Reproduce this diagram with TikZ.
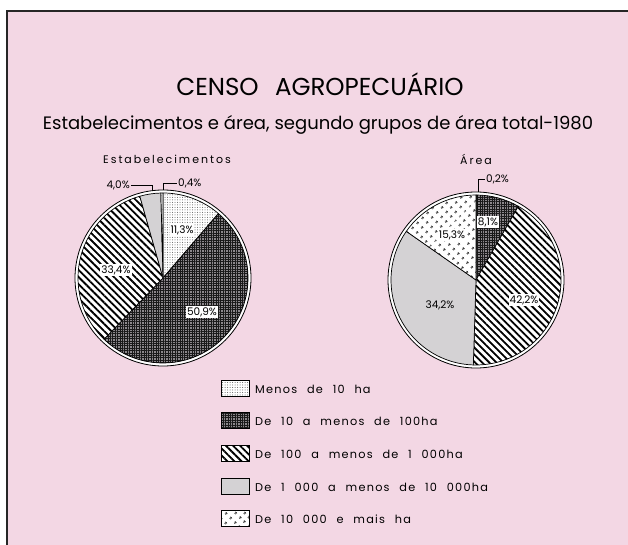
\documentclass[tikz,border=0pt]{standalone}
\usepackage{fontspec}
\setmainfont{Poppins}
\newfontfamily\legfont[LetterSpace=11,WordSpace=2.3]{Poppins}
\newfontfamily\spfont[LetterSpace=18]{Poppins}
\usetikzlibrary{patterns,patterns.meta}
\definecolor{bgpink}{RGB}{243,215,228}
\definecolor{lgray}{RGB}{212,210,212}
\definecolor{dkfill}{RGB}{140,136,140}
\tikzset{
  finedots/.style={preaction={fill=white},preaction={pattern={Dots[distance=2.5pt,radius=0.5pt]},pattern color=black!65}},
  darkhatch/.style={preaction={fill=dkfill},preaction={pattern={Hatch[angle=0,distance=2.4pt,line width=0.75pt]},pattern color=black!90}},
  stripes/.style={preaction={fill=white},preaction={pattern={Lines[angle=-45,distance=5pt,line width=1.8pt]},pattern color=black}},
  graysl/.style={preaction={fill=lgray}},
  bigdots/.style={preaction={fill=white},preaction={pattern={Dots[angle=45,distance=6.5pt,radius=1.4pt]},pattern color=black!80}},
  slicebd/.style={draw=black,line width=0.7pt,line join=round},
  ring/.style={draw=black,line width=0.8pt},
  inlab/.style={fill=white,inner sep=1pt,font=\fontsize{10.5}{12}\selectfont},
  outlab/.style={inner sep=1pt,font=\fontsize{10.5}{12}\selectfont},
  leader/.style={draw=black,line width=0.7pt},
  legbox/.style={draw=black,line width=0.8pt,minimum width=28pt,minimum height=16pt,inner sep=0pt},
  legtext/.style={anchor=west,inner sep=0pt,font=\legfont\fontsize{11.3}{13}\selectfont}
}
\newcommand\pslice[4]{\draw[slicebd,#4] (0,0) -- (#2:#1) arc[start angle=#2,end angle=#3,radius=#1] -- cycle;}
\begin{document}
\begin{tikzpicture}[x=1pt,y=-1pt]
\useasboundingbox (0,0) rectangle (628,545);
\fill[white] (0,0) rectangle (628,545);
\fill[bgpink] (7,11) rectangle (628,545);
\draw[line width=2.2pt,black!85] (7,545) -- (7,11) -- (628,11);

\node[font=\fontsize{24.5}{29}\selectfont] (title) at (320,84) {CENSO\hspace{0.4em} AGROPECUÁRIO};
\node[font=\fontsize{18}{22}\selectfont] (sub) at (318,125) {Estabelecimentos e área, segundo grupos de área total-1980};
\node[font=\spfont\fontsize{11}{13}\selectfont] (hl) at (167,159) {Estabelecimentos};
\node[font=\spfont\fontsize{11}{13}\selectfont] (hr) at (476,159) {Área};

% left pie
\begin{scope}[shift={(163,278)},y=1pt]
  \coordinate (L) at (0,0);
  \fill[white] (L) circle[radius=88];
  \draw[ring] (L) circle[radius=88];
  \pslice{85}{90}{49.32}{finedots}
  \pslice{85}{49.32}{-133.92}{darkhatch}
  \pslice{85}{-133.92}{-254.16}{stripes}
  \pslice{85}{-254.16}{-268.56}{graysl}
  \pslice{85}{-268.56}{-270}{bigdots}
  \coordinate (Ltop) at (90:88);
  \coordinate (L40) at (97.2:88);
\end{scope}
\node[inlab] (l113) at (182,230) {11,3\%};
\node[inlab] (l509) at (202,312) {50,9\%};
\node[inlab] (l334) at (116,270) {33,4\%};
\node[outlab,anchor=west] (l04) at (177,183) {0,4\%};
\node[outlab,anchor=east] (l40) at (131,185) {4,0\%};
\draw[leader] (Ltop) |- (l04.west);
\draw[leader] (L40) |- (l40.east);

% right pie
\begin{scope}[shift={(476,280)},y=1pt]
  \coordinate (R) at (0,0);
  \fill[white] (R) circle[radius=88];
  \draw[ring] (R) circle[radius=88];
  \pslice{85}{90}{89.28}{finedots}
  \pslice{85}{89.28}{60.12}{darkhatch}
  \pslice{85}{60.12}{-91.8}{stripes}
  \pslice{85}{-91.8}{-214.92}{graysl}
  \pslice{85}{-214.92}{-270}{bigdots}
  \coordinate (Rtop) at (88.7:88);
\end{scope}
\node[inlab] (r81) at (488,222) {8,1\%};
\node[inlab] (r153) at (452,235) {15,3\%};
\node[inlab] (r422) at (524,300) {42,2\%};
\node[outlab] (r342) at (440,305) {34,2\%};
\node[outlab,anchor=west] (r02) at (485,179) {0,2\%};
\draw[leader] (Rtop) |- (r02.west);

% legend
\node[legbox,finedots] (b1) at (235,388) {};
\node[legbox,darkhatch] (b2) at (235,420) {};
\node[legbox,stripes] (b3) at (235,453) {};
\node[legbox,graysl] (b4) at (235,486) {};
\node[legbox,bigdots] (b5) at (235,518) {};
\node[legtext] (t1) at (255,389) {Menos de 10 ha};
\node[legtext] (t2) at (255,421) {De 10 a menos de 100ha};
\node[legtext] (t3) at (255,454) {De 100 a menos de 1 000ha};
\node[legtext] (t4) at (255,487) {De 1 000 a menos de 10 000ha};
\node[legtext] (t5) at (255,519) {De 10 000 e mais ha};
\end{tikzpicture}
\end{document}
